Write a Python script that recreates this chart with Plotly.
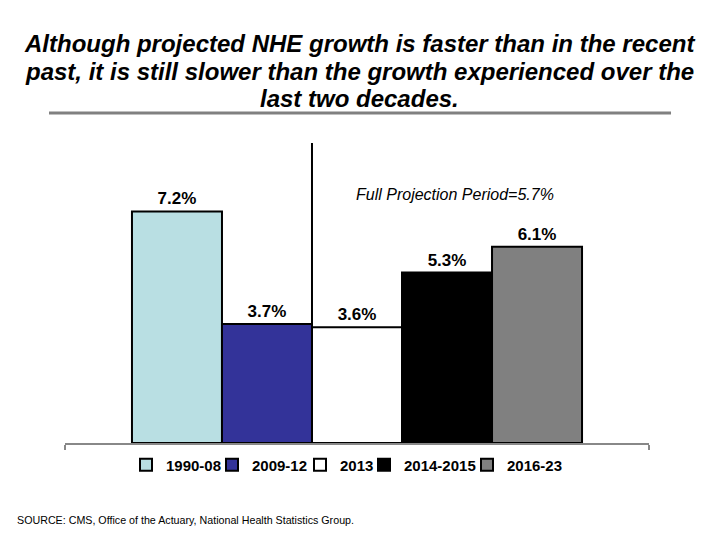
import plotly.graph_objects as go

periods = ["1990-08", "2009-12", "2013", "2014-2015", "2016-23"]
growth = [7.2, 3.7, 3.6, 5.3, 6.1]
labels = ["7.2%", "3.7%", "3.6%", "5.3%", "6.1%"]
colors = ["#B9DFE3", "#333399", "#FFFFFF", "#000000", "#808080"]
positions = [0, 1, 2, 3, 4]
title_lines = [
    "Although projected NHE growth is faster than in the recent",
    "past, it is still slower than the growth experienced over the",
    "last two decades.",
]
# left edge of each legend entry's text (page pixels)
legend_text_px = [166, 252, 340, 404, 507]

FONT = "Arial, Liberation Sans, sans-serif"

fig = go.Figure()
legend_ids = ["legend"] + [f"legend{i}" for i in range(2, len(periods) + 1)]
for p, v, lab, c, x, lid in zip(periods, growth, labels, colors, positions, legend_ids):
    fig.add_trace(go.Bar(
        x=[x], y=[v], name=p, width=1, legend=lid,
        marker=dict(color=c, line=dict(color="#000000", width=2)),
        text=[f"<b>{lab}</b>"], textposition="outside",
        textfont=dict(family=FONT, size=17, color="#000000"),
        cliponaxis=False,
    ))

legend_layouts = {}
for lid, tx in zip(legend_ids, legend_text_px):
    legend_layouts[lid] = dict(
        orientation="h", x=(tx - 40 - 65) / 584, xanchor="left",
        y=-0.073, yanchor="middle", bgcolor="rgba(0,0,0,0)",
        font=dict(family=FONT, size=15, color="#000000", weight="bold"),
        itemwidth=30,
    )

fig.update_layout(
    width=720, height=540,
    paper_bgcolor="white", plot_bgcolor="white",
    margin=dict(l=57, r=79, t=135, b=105),
    barmode="overlay",
    showlegend=True,
    xaxis=dict(
        range=[-1.244, 5.244], showgrid=False, zeroline=False,
        showline=True, linecolor="#888888", linewidth=2,
        tickvals=[-1.244, 5.244], ticktext=["", ""], ticks="outside",
        ticklen=5, tickcolor="#888888", tickwidth=2,
    ),
    yaxis=dict(range=[0, 9.33], visible=False),
    font=dict(family=FONT),
    **legend_layouts,
)

# separator between history and projection
fig.add_shape(type="line", xref="x", yref="paper", x0=1.5, x1=1.5, y0=0, y1=1,
              line=dict(color="#000000", width=2))

# title rule
fig.add_shape(type="line", xref="paper", yref="paper", x0=-0.0274, x1=1.0377,
              y0=1.1, y1=1.1, line=dict(color="#808080", width=3))

for line, yy in zip(title_lines, [1.33, 1.24, 1.15]):
    fig.add_annotation(
        xref="paper", yref="paper", x=0.505, y=yy, xanchor="center", yanchor="middle",
        text=f"<b><i>{line}</i></b>",
        showarrow=False, align="center",
        font=dict(family=FONT, size=24, color="#000000"),
    )

fig.add_annotation(
    xref="paper", yref="paper", x=0.495, y=0.83, xanchor="left", yanchor="middle",
    text="<i>Full Projection Period=5.7%</i>", showarrow=False,
    font=dict(family=FONT, size=16, color="#000000"),
)

fig.add_annotation(
    xref="paper", yref="paper", x=-0.0856, y=-0.2567, xanchor="left", yanchor="middle",
    text="SOURCE: CMS, Office of the Actuary, National Health Statistics Group.",
    showarrow=False, font=dict(family=FONT, size=10.7, color="#000000"),
)

fig.write_html("out.html")
